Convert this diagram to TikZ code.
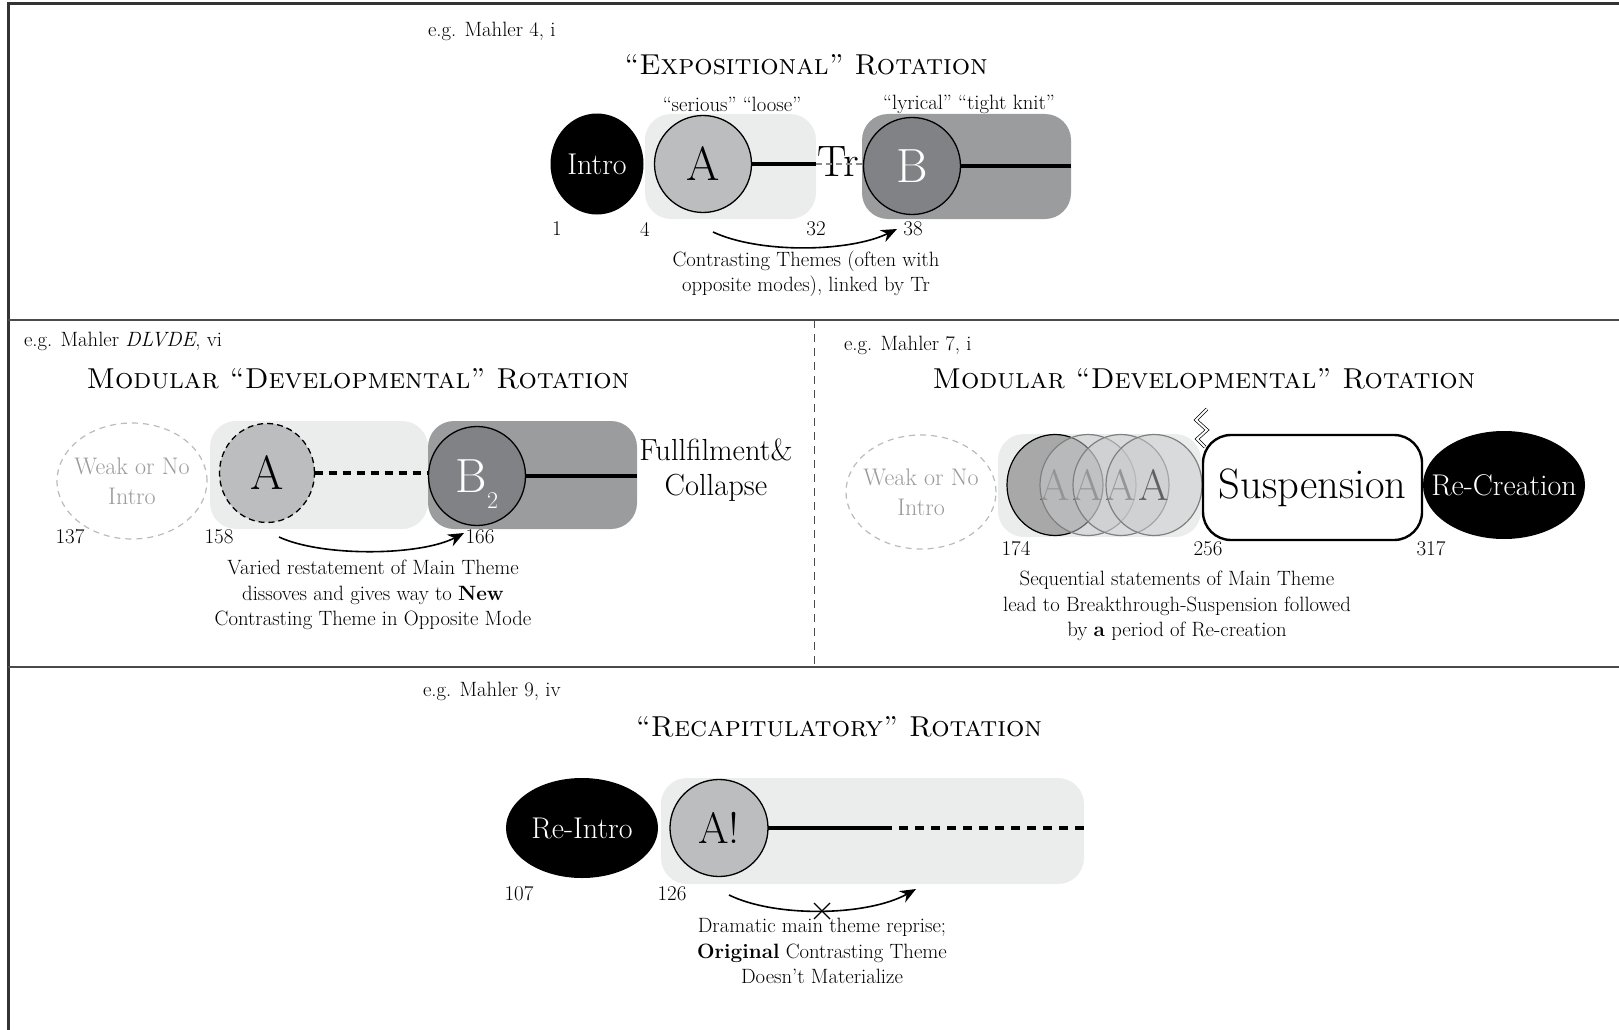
\documentclass[tikz,border=0pt]{standalone}
\usetikzlibrary{shapes.geometric,arrows.meta}
\definecolor{paleBox}{HTML}{EBECEC}
\definecolor{midGrey}{HTML}{BCBDBF}
\definecolor{darkBox}{HTML}{9B9C9E}
\definecolor{deepGrey}{HTML}{808285}
\definecolor{faintLine}{HTML}{BBBBBB}
\definecolor{faintText}{HTML}{9A9A9A}
\definecolor{ruleGrey}{HTML}{4A4A4A}
\newcommand{\setfs}[2]{\fontsize{#1}{#2}\selectfont}
\begin{document}
\begin{tikzpicture}[x=1pt,y=-1pt,
  every node/.style={inner sep=0pt, outer sep=0pt},
  caption/.style={font=\setfs{20.7}{25.5}, align=center},
  numlabel/.style={font=\setfs{21}{22}},
  heading/.style={font=\setfs{28.8}{34}\scshape},
  paleblock/.style={fill=paleBox, rounded corners=26pt},
  darkblock/.style={fill=darkBox, rounded corners=26pt},
  blackoval/.style={ellipse, inner xsep=-28pt, fill=black, text=white, font=\setfs{30}{32}},
  weakoval/.style={ellipse, inner xsep=-22pt, draw=faintLine, line width=1.2pt, dash pattern=on 6pt off 5pt,
    text=faintText, font=\setfs{24}{30}, align=center},
  themeA/.style={ellipse, fill=midGrey, draw=black, line width=1.3pt, font=\setfs{48}{48}},
  themeB/.style={ellipse, fill=deepGrey, draw=black, line width=1.3pt, text=white, font=\setfs{48}{48}},
  ghostA/.style={ellipse, minimum width=96, minimum height=101, fill=midGrey!80!white,
    fill opacity=0.5, draw=black!50, line width=1.2pt, text=black!62, text opacity=1,
    font=\setfs{44}{44}},
  themeline/.style={line width=4pt, line cap=butt},
  brokenline/.style={line width=4pt, dash pattern=on 9pt off 7pt},
  flow/.style={line width=1.6pt, -{Stealth[length=16pt, width=13pt]}},
  divider/.style={line width=1.4pt, draw=ruleGrey}
]
\useasboundingbox (0,0) rectangle (1619,1030);

% ---------- frame and panel rules ----------
\draw[line width=3pt, draw=black!80] (8,1030) -- (8,4) -- (1619,4);
\draw[divider] (8,320) -- (1619,320);
\draw[divider] (8,667) -- (1619,667);
\draw[line width=1pt, draw=ruleGrey, dash pattern=on 8pt off 6pt] (814,320) -- (814,667);

% ---------- expositional rotation ----------
\node[caption, anchor=west] (egT) at (428,31) {e.g. Mahler 4, i};
\node[heading] (titleT) at (806,65) {``Expositional'' Rotation};
\node[caption] (moodA) at (732,104) {``serious'' ``loose''};
\node[caption] (moodB) at (969,104) {``lyrical'' ``tight knit''};

\node[paleblock, minimum width=171, minimum height=105] (boxAT) at (730.5,166.5) {};
\node[darkblock, minimum width=209, minimum height=105] (boxBT) at (966.5,166.5) {};
\node[blackoval, minimum width=93, minimum height=101] (introT) at (597,164) {Intro};
\node[themeA, minimum width=97, minimum height=97] (AT) at (703,164) {A};
\node[font=\setfs{44}{44}] (TrT) at (838,162) {Tr};
\node[themeB, minimum width=97, minimum height=97] (BT) at (912,166) {B};
\draw[themeline] (AT.east) -- (AT.east -| boxAT.east);
\draw[line width=1.5pt, draw=black!45, dash pattern=on 6pt off 4pt] (AT.east -| boxAT.east) -- (AT.east -| BT.west);
\draw[themeline] (BT.east) -- (BT.east -| boxBT.east);

\node[numlabel] (nT1) at (557,229) {1};
\node[numlabel] (nT4) at (645,229) {4};
\node[numlabel] (nT32) at (816,229) {32};
\node[numlabel] (nT38) at (913,229) {38};
\coordinate (arrTs) at (713,232);
\coordinate (arrTe) at (897,229);
\draw[flow] (arrTs) .. controls (760,254) and (850,252) .. (arrTe);
\node[caption] (capT) at (806,274) {Contrasting Themes (often with\\opposite modes), linked by Tr};

% ---------- modular developmental rotation, left ----------
\node[caption, anchor=west] (egL) at (24,341) {e.g. Mahler \textit{DLVDE}, vi};
\node[heading] (titleL) at (358,379) {Modular ``Developmental'' Rotation};
\node[weakoval, minimum width=150, minimum height=116] (weakL) at (132,481) {Weak or No\\Intro};
\node[paleblock, minimum width=218, minimum height=108] (boxAL) at (319,475) {};
\node[darkblock, minimum width=209, minimum height=108] (boxBL) at (532.5,475) {};
\node[themeA, dash pattern=on 6pt off 4pt, minimum width=95, minimum height=99] (AL) at (267,473) {A};
\node[themeB, minimum width=97, minimum height=99] (BL) at (477,476) {B\smash{\raisebox{-16pt}{\setfs{24}{24}2}}};
\draw[brokenline, dash pattern=on 8pt off 6pt] (AL.east) -- (AL.east -| BL.west);
\draw[themeline] (BL.east) -- (BL.east -| boxBL.east);
\node[font=\setfs{30.5}{35}, align=center] (fulfil) at (716,470) {Fullfilment\&\\Collapse};

\node[numlabel] (nL137) at (70,537) {137};
\node[numlabel] (nL158) at (219,537) {158};
\node[numlabel] (nL166) at (480,537) {166};
\coordinate (arrLs) at (279,537);
\coordinate (arrLe) at (464,533);
\draw[flow] (arrLs) .. controls (322,557) and (420,556) .. (arrLe);
\node[caption] (capL) at (373,595) {Varied restatement of Main Theme\\dissoves and gives way to \textbf{New}\\Contrasting Theme in Opposite Mode};

% ---------- modular developmental rotation, right ----------
\node[caption, anchor=west] (egR) at (844,345) {e.g. Mahler 7, i};
\node[heading] (titleR) at (1204,379) {Modular ``Developmental'' Rotation};
\node[weakoval, minimum width=150, minimum height=114] (weakR) at (921,492) {Weak or No\\Intro};
\node[paleblock, minimum width=203, minimum height=103] (boxAR) at (1099.5,485.5) {};
\node[ghostA, fill=black!34, fill opacity=1, draw=black] (A1) at (1055,485) {A};
\node[ghostA] (A2) at (1088,485) {A};
\node[ghostA] (A3) at (1121,485) {A};
\node[ghostA] (A4) at (1154,485) {A};
\node[rounded corners=28pt, draw=black, line width=2.4pt, fill=white,
  minimum width=219, minimum height=105, font=\setfs{42.5}{42}] (susp) at (1312.5,487.5) {Suspension};
\node[blackoval, minimum width=162, minimum height=108] (recre) at (1504,485) {Re-Creation};
\draw[double=white, double distance=2pt, line width=0.7pt, line join=miter]
  (1207,409) -- (1196,420) -- (1207,430) -- (1197,439) -- (1205,447);

\node[numlabel] (nR174) at (1016,549) {174};
\node[numlabel] (nR256) at (1208,549) {256};
\node[numlabel] (nR317) at (1431,549) {317};
\node[caption] (capR) at (1177,606) {Sequential statements of Main Theme\\lead to Breakthrough-Suspension followed\\by \textbf{a} period of Re-creation};

% ---------- recapitulatory rotation ----------
\node[caption, anchor=west] (egB) at (423,691) {e.g. Mahler 9, iv};
\node[heading] (titleB) at (839,727) {``Recapitulatory'' Rotation};
\node[paleblock, minimum width=423, minimum height=106] (boxB) at (872.5,831) {};
\node[blackoval, minimum width=152, minimum height=100] (reintro) at (582,828) {Re-Intro};
\node[themeA, minimum width=98, minimum height=97, font=\setfs{44}{44}] (Abang) at (719,828) {A!};
\draw[themeline] (Abang.east) -- ++(115,0) coordinate (breakB);
\draw[brokenline] (breakB) -- (breakB -| boxB.east);

\node[numlabel] (nB107) at (519,894) {107};
\node[numlabel] (nB126) at (672,894) {126};
\coordinate (arrBs) at (729,895);
\coordinate (arrBe) at (916,889);
\draw[flow] (arrBs) .. controls (776,918) and (868,916) .. (arrBe);
\coordinate (crossB) at (822,911);
\draw[line width=1.2pt] ([shift={(-8,-8)}]crossB) -- ([shift={(8,8)}]crossB)
  ([shift={(-8,8)}]crossB) -- ([shift={(8,-8)}]crossB);
\node[caption] (capB) at (822,951) {Dramatic main theme reprise;\\\textbf{Original} Contrasting Theme\\Doesn't Materialize};
\end{tikzpicture}
\end{document}
